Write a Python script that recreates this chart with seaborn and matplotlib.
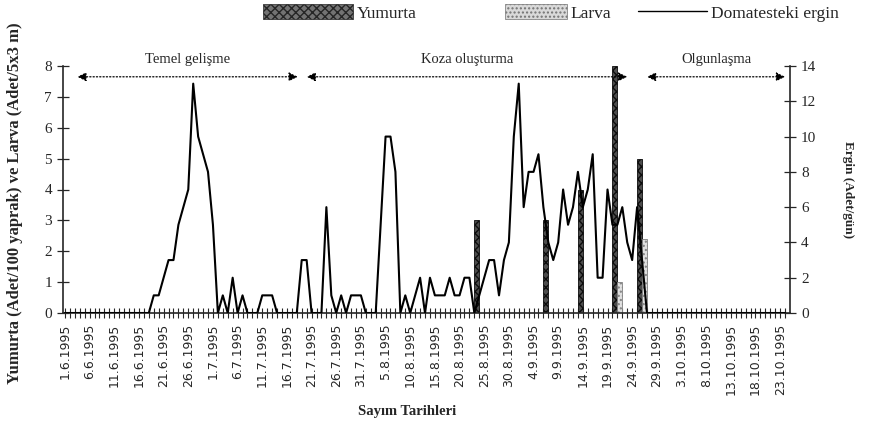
import numpy as np
import pandas as pd
import seaborn as sns
import matplotlib.pyplot as plt
from matplotlib.patches import Patch
from matplotlib.lines import Line2D

# adults on tomato per day (right axis), one value per counting day from 1.6.1995
ergin = [0] * 18 + [
    1, 1, 2, 3, 3, 5, 6, 7, 13, 10, 9, 8, 5, 0, 1, 0, 2, 0, 1, 0,   # 18-37
    0, 0, 1, 1, 1, 0, 0, 0, 0, 0, 3, 3, 0, 0, 0, 6, 1, 0, 1, 0,      # 38-57
    1, 1, 1, 0, 0, 0, 5, 10, 10, 8, 0, 1, 0, 1, 2, 0, 2, 1, 1, 1,    # 58-77
    2, 1, 1, 2, 2, 0, 1, 2, 3, 3, 1, 3, 4, 10, 13, 6, 8, 8, 9, 6,    # 78-97
    4, 3, 4, 7, 5, 6, 8, 6, 7, 9, 2, 2, 7, 5, 5, 6, 4, 3, 6, 3,      # 98-117
] + [0] * 29
gun = list(range(len(ergin)))

# egg and larva counts (left axis)
bar_gun = [84, 98, 105, 112, 117]
yumurta = [3, 3, 4, 8, 5]
larva = [0, 0, 0, 1, 2.4]

tarih = ["1.6.1995", "6.6.1995", "11.6.1995", "16.6.1995", "21.6.1995", "26.6.1995",
         "1.7.1995", "6.7.1995", "11.7.1995", "16.7.1995", "21.7.1995", "26.7.1995",
         "31.7.1995", "5.8.1995", "10.8.1995", "15.8.1995", "20.8.1995", "25.8.1995",
         "30.8.1995", "4.9.1995", "9.9.1995", "14.9.1995", "19.9.1995", "24.9.1995",
         "29.9.1995", "3.10.1995", "8.10.1995", "13.10.1995", "18.10.1995", "23.10.1995"]

evreler = [("Temel gelişme", 2.5, 47.2), ("Koza oluşturma", 49.0, 114.0),
           ("Olgunlaşma", 118.0, 146.0)]

sns.set_style("ticks")
plt.rcParams["font.family"] = ["Liberation Serif", "DejaVu Serif"]

fig = plt.figure(figsize=(8.7, 4.22), dpi=100)
ax = fig.add_axes([63 / 870, 1 - 313 / 422, (790 - 63) / 870, (313 - 66) / 422])

bars = pd.DataFrame({
    "gun": bar_gun * 2,
    "deger": yumurta + larva,
    "evre": ["Yumurta"] * len(yumurta) + ["Larva"] * len(larva),
})
sns.barplot(data=bars, x="gun", y="deger", hue="evre", native_scale=True, dodge=True,
            width=2.0 / min(np.diff(bar_gun)), errorbar=None, legend=False,
            palette={"Yumurta": "0.3", "Larva": "0.88"}, ax=ax)
stil = [("0.3", "0.05", "xxxx"), ("0.88", "0.5", "....")]
for cont, (fc, ec, h) in zip(ax.containers, stil):
    for b in cont:
        b.set_facecolor(fc)
        b.set_edgecolor(ec)
        b.set_hatch(h)
        b.set_linewidth(0.6)

ax.set_xlim(-0.4, 147)
ax.set_ylim(0, 8)
ax.set_yticks(range(0, 9))
ax.set_xticks(range(0, 5 * len(tarih), 5))
ax.set_xticklabels(tarih, rotation=90, family="DejaVu Sans", fontsize=9, va="top")
ax.set_xticks(gun, minor=True)
ax.tick_params(axis="x", which="both", direction="inout", length=7, width=0.8, pad=4)
ax.tick_params(axis="y", direction="inout", length=8, width=0.9, labelsize=11, pad=4)
ax.set_xlabel("Sayım Tarihleri", fontsize=10.5, fontweight="bold", va="center")
ax.xaxis.set_label_coords(0.473, -0.40)
ax.set_ylabel("Yumurta (Adet/100 yaprak) ve Larva (Adet/5x3 m)", fontsize=12,
              fontweight="bold", va="center")
ax.yaxis.set_label_coords(-0.066, 0.445)
for s in ["top", "right"]:
    ax.spines[s].set_visible(False)
ax.spines["left"].set_linewidth(1.2)
ax.spines["bottom"].set_linewidth(1.2)

ax2 = ax.twinx()
sns.lineplot(x=gun, y=ergin, ax=ax2, color="black", lw=1.5)
ax2.set_ylim(0, 14)
ax2.set_yticks(range(0, 15, 2))
ax2.tick_params(axis="y", direction="inout", length=8, width=0.9, labelsize=11, pad=4)
ax2.set_ylabel("Ergin (Adet/gün)", fontsize=9.5, fontweight="bold", rotation=270,
               va="center")
ax2.yaxis.set_label_coords(1.08, 0.5)
for s in ["top", "left", "bottom"]:
    ax2.spines[s].set_visible(False)
ax2.spines["right"].set_linewidth(1.2)

for ad, bas, son in evreler:
    ax.annotate("", xy=(bas, 7.65), xytext=(son, 7.65), annotation_clip=False,
                arrowprops=dict(arrowstyle="<|-|>", linestyle=":", color="black",
                                lw=0.9, mutation_scale=13, shrinkA=0, shrinkB=0))
    ax.text((bas + son) / 2, 8.2, ad, ha="center", va="center", fontsize=10.5,
            clip_on=False)

# legend across the top, one group per series
leg_items = [
    (Patch(facecolor="0.45", edgecolor="0.15", hatch="xxxx", lw=0.5), "Yumurta", 340, 5.2),
    (Patch(facecolor="0.85", edgecolor="0.45", hatch="....", lw=0.5), "Larva", 558, 3.6),
    (Line2D([], [], color="black", lw=1.0), "Domatesteki ergin", 738, 4.0),
]
for h, lab, cx, hl in leg_items:
    fig.legend([h], [lab], loc="center", bbox_to_anchor=(cx / 870, 1 - 13 / 422),
               frameon=False, fontsize=12.5, handlelength=hl, handleheight=0.9,
               handletextpad=0.2, borderpad=0)

fig.savefig("out.png", dpi=100)
